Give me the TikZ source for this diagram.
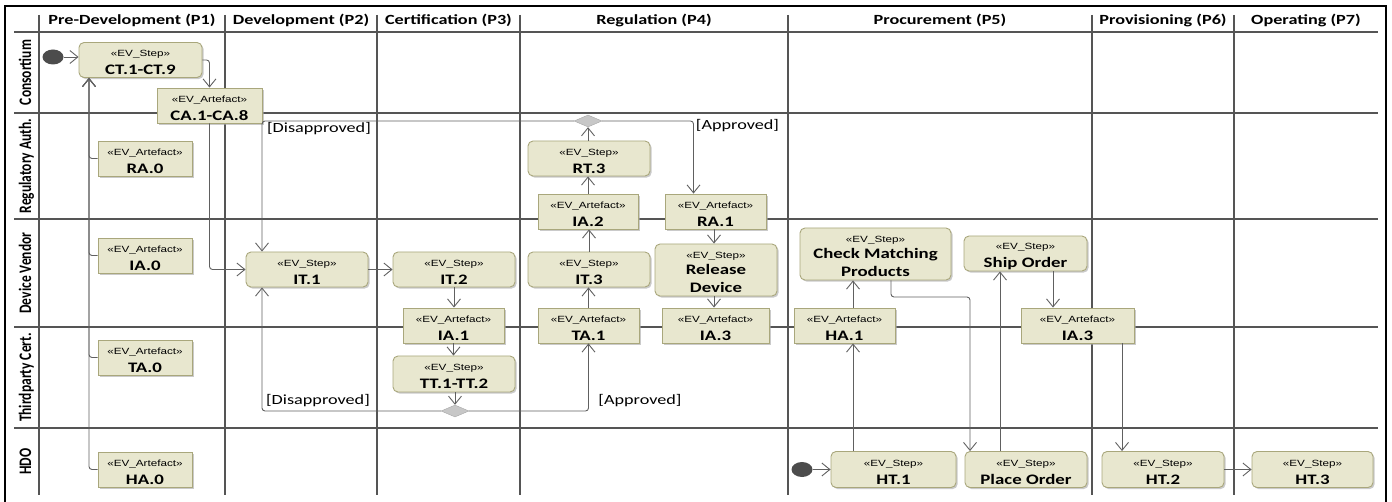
\documentclass[tikz,border=0pt]{standalone}
\usepackage{fontspec}
\usepackage{graphicx}
\setmainfont{Carlito}
\newfontfamily\stereofont{Liberation Sans}
\usetikzlibrary{shapes.geometric,arrows.meta,shadows,calc}
\definecolor{boxfill}{HTML}{E8E7CF}
\definecolor{boxline}{HTML}{A9A77C}
\definecolor{laneline}{HTML}{555555}
\definecolor{flowline}{HTML}{606060}
\newcommand\sx[1]{\scalebox{1.3}[1]{#1}}
\newcommand\stereo[1]{\rule{0pt}{12pt}\sx{\stereofont\fontsize{9}{10}\selectfont #1}}
\newcommand\nm[1]{\sx{\bfseries\fontsize{14.5}{16}\selectfont #1}}
\tikzset{
  x=1pt, y=-1pt,
  boxbase/.style={draw=boxline, fill=boxfill, line width=0.9pt, inner sep=0pt,
    align=center, minimum height=35pt, font=\fontsize{14}{17}\selectfont,
    drop shadow={shadow xshift=1.6pt, shadow yshift=-1.6pt, fill=black!35, opacity=0.6}},
  stepbox/.style={boxbase, rounded corners=5pt},
  artbox/.style={boxbase},
  decision/.style={diamond, draw=black!35, fill=black!22, inner sep=0pt, minimum width=28pt, minimum height=12pt},
  initial/.style={ellipse, fill=black!70, inner sep=0pt, minimum width=21pt, minimum height=15pt},
  flow/.style={draw=flowline, line width=0.9pt, rounded corners=3pt, -{Straight Barb[length=8pt,width=13pt]}},
  lane/.style={draw=laneline, line width=1.8pt},
  phase/.style={anchor=base, font=\bfseries\fontsize{14}{16}\selectfont},
  lanelabel/.style={anchor=base, rotate=90, font=\bfseries\fontsize{13.5}{15}\selectfont},
  guard/.style={anchor=base, font=\fontsize{14}{16}\selectfont},
}
\begin{document}
\begin{tikzpicture}
\useasboundingbox (0,0) rectangle (1392,502);
% outer frame
\draw[black, line width=1.3pt] (5,502) -- (5,6) -- (1386,6) -- (1386,502);
% lanes
\foreach \yy in {32,113,219,327,428} \draw[lane] (14,\yy) -- (1378,\yy);
\foreach \xx in {39,225,377,520,788,1092,1234} \draw[lane] (\xx,15) -- (\xx,495);
% phase headers
\node[phase] (P1) at (132,25) {\sx{Pre-Development (P1)}};
\node[phase] (P2) at (301,25) {\sx{Development (P2)}};
\node[phase] (P3) at (448.5,25) {\sx{Certification (P3)}};
\node[phase] (P4) at (654,25) {\sx{Regulation (P4)}};
\node[phase] (P5) at (940,25) {\sx{Procurement (P5)}};
\node[phase] (P6) at (1163,25) {\sx{Provisioning (P6)}};
\node[phase] (P7) at (1306,25) {\sx{Operating (P7)}};
% lane labels
\node[lanelabel] (L1) at (31,72.5) {\scalebox{1}[1.3]{Consortium}};
\node[lanelabel] (L2) at (31,166) {\scalebox{1}[1.3]{Regulatory Auth.}};
\node[lanelabel] (L3) at (31,273) {\scalebox{1}[1.3]{Device Vendor}};
\node[lanelabel] (L4) at (31,377.5) {\scalebox{1}[1.3]{Thirdparty Cert.}};
\node[lanelabel] (L5) at (31,461.5) {\scalebox{1}[1.3]{HDO}};
% initial nodes
\node[initial] (I1) at (53,57) {};
\node[initial] (I2) at (802,469.5) {};
% steps
\node[stepbox, minimum width=123pt] (CT) at (140.5,60) {\stereo{«EV\_Step»}\\[1pt]\nm{CT.1-CT.9}};
\node[stepbox, minimum width=122pt] (IT1) at (307,269.5) {\stereo{«EV\_Step»}\\[1pt]\nm{IT.1}};
\node[stepbox, minimum width=122pt] (IT2) at (454,269.5) {\stereo{«EV\_Step»}\\[1pt]\nm{IT.2}};
\node[stepbox, minimum width=122pt, minimum height=36pt] (TT) at (454,374) {\stereo{«EV\_Step»}\\[1pt]\nm{TT.1-TT.2}};
\node[stepbox, minimum width=122pt] (RT3) at (589,158.5) {\stereo{«EV\_Step»}\\[1pt]\nm{RT.3}};
\node[stepbox, minimum width=122pt] (IT3) at (589,269.5) {\stereo{«EV\_Step»}\\[1pt]\nm{IT.3}};
\node[stepbox, minimum width=122pt, minimum height=52pt] (RD) at (716,270) {\stereo{«EV\_Step»}\\[-1pt]\nm{Release}\\[1pt]\nm{Device}};
\node[stepbox, minimum width=151pt, minimum height=52pt] (CM) at (875.5,254) {\stereo{«EV\_Step»}\\[-1pt]\nm{Check Matching}\\[1pt]\nm{Products}};
\node[stepbox, minimum width=123pt] (SO) at (1025.5,253.5) {\stereo{«EV\_Step»}\\[1pt]\nm{Ship Order}};
\node[stepbox, minimum width=125pt, minimum height=36pt] (HT1) at (893.5,469.5) {\stereo{«EV\_Step»}\\[1pt]\nm{HT.1}};
\node[stepbox, minimum width=122pt, minimum height=36pt] (PO) at (1026,469.5) {\stereo{«EV\_Step»}\\[1pt]\nm{Place Order}};
\node[stepbox, minimum width=122pt, minimum height=36pt] (HT2) at (1163,469.5) {\stereo{«EV\_Step»}\\[1pt]\nm{HT.2}};
\node[stepbox, minimum width=121pt, minimum height=36pt] (HT3) at (1312.5,469.5) {\stereo{«EV\_Step»}\\[1pt]\nm{HT.3}};
% artefacts
\node[artbox, minimum width=105pt] (CA) at (209.5,105.5) {\stereo{«EV\_Artefact»}\\[1pt]\nm{CA.1-CA.8}};
\node[artbox, minimum width=94pt] (RA0) at (145,158.5) {\stereo{«EV\_Artefact»}\\[1pt]\nm{RA.0}};
\node[artbox, minimum width=94pt] (IA0) at (145,255.5) {\stereo{«EV\_Artefact»}\\[1pt]\nm{IA.0}};
\node[artbox, minimum width=94pt] (TA0) at (145,357.5) {\stereo{«EV\_Artefact»}\\[1pt]\nm{TA.0}};
\node[artbox, minimum width=94pt] (HA0) at (145,469.5) {\stereo{«EV\_Artefact»}\\[1pt]\nm{HA.0}};
\node[artbox, minimum width=100pt] (IA2) at (588,211.5) {\stereo{«EV\_Artefact»}\\[1pt]\nm{IA.2}};
\node[artbox, minimum width=101pt] (RA1) at (715.5,211.5) {\stereo{«EV\_Artefact»}\\[1pt]\nm{RA.1}};
\node[artbox, minimum width=101pt] (IA1) at (453.5,325.5) {\stereo{«EV\_Artefact»}\\[1pt]\nm{IA.1}};
\node[artbox, minimum width=101pt] (TA1) at (588.5,325.5) {\stereo{«EV\_Artefact»}\\[1pt]\nm{TA.1}};
\node[artbox, minimum width=107pt] (IA3a) at (715.5,325.5) {\stereo{«EV\_Artefact»}\\[1pt]\nm{IA.3}};
\node[artbox, minimum width=101pt] (HA1) at (844.5,325.5) {\stereo{«EV\_Artefact»}\\[1pt]\nm{HA.1}};
\node[artbox, minimum width=113pt] (IA3b) at (1077.5,325.5) {\stereo{«EV\_Artefact»}\\[1pt]\nm{IA.3}};
% decisions
\node[decision] (D1) at (588,121) {};
\node[decision] (D2) at (455,411) {};
% helper x positions
\coordinate (treex) at (89,0);
\coordinate (disx) at (262,0);
\coordinate (rdx) at (714,0);
\coordinate (hx) at (853,0);
\coordinate (c891) at (891,297);
\coordinate (c970) at (970,0);
\coordinate (c1000) at (1000,0);
\coordinate (c1053) at (1053,0);
\coordinate (c1122) at (1122,0);
% flows
\draw[flow] (I1.east) -- (I1.east -| CT.west);
\draw[flow] (CT.east) -| (CA.north);
\draw[flow] (CA.south) |- (IT1.west);
\draw[flow] (RA0.west) -| (treex |- CT.south);
\draw[flow] (IA0.west) -| (treex |- CT.south);
\draw[flow] (TA0.west) -| (treex |- CT.south);
\draw[flow] (HA0.west) -| (treex |- CT.south);
\draw[flow] (D1.west) -| (disx |- IT1.north);
\draw[flow] (D1.east) -| ($(RA1.north)+(-22,0)$);
\draw[flow] (RT3.north -| D1.south) -- (D1.south);
\draw[flow] (IA2.north) -- (IA2.north |- RT3.south);
\draw[flow] (IT3.north) -- (IT3.north |- IA2.south);
\draw[flow] (TA1.north) -- (TA1.north |- IT3.south);
\draw[flow] (rdx |- RA1.south) -- (rdx |- RD.north);
\draw[flow] (rdx |- RD.south) -- (rdx |- IA3a.north);
\draw[flow] (IT1.east) -- (IT1.east -| IT2.west);
\draw[flow] (IT2.south) -- (IT2.south |- IA1.north);
\draw[flow] (IA1.south) -- (IA1.south |- TT.north);
\draw[flow] (TT.south -| D2.north) -- (D2.north);
\draw[flow] (D2.west) -| (disx |- IT1.south);
\draw[flow] (D2.east) -| (TA1.south);
\draw[flow] (I2.east) -- (I2.east -| HT1.west);
\draw[flow] (hx |- HT1.north) -- (hx |- HA1.south);
\draw[flow] (hx |- HA1.north) -- (hx |- CM.south);
\draw[flow] (c891 |- CM.south) -- (c891) -| (c970 |- PO.north);
\draw[flow] (c1000 |- PO.north) -- (c1000 |- SO.south);
\draw[flow] (c1053 |- SO.south) -- (c1053 |- IA3b.north);
\draw[flow] (c1122 |- IA3b.south) -- (c1122 |- HT2.north);
\draw[flow] (HT2.east) -- (HT2.east -| HT3.west);
% guards
\node[guard] (G1) at (319,133) {\sx{[Disapproved]}};
\node[guard] (G2) at (737.5,130) {\sx{[Approved]}};
\node[guard] (G3) at (318,405) {\sx{[Disapproved]}};
\node[guard] (G4) at (640,404) {\sx{[Approved]}};
\end{tikzpicture}
\end{document}
